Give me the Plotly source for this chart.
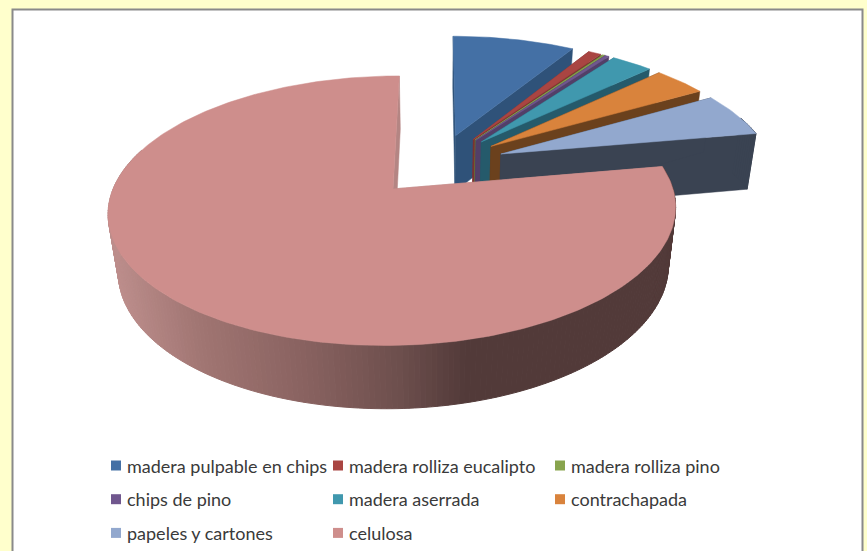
import math
import plotly.graph_objects as go

categories = ["madera pulpable en chips", "madera rolliza eucalipto", "madera rolliza pino",
              "chips de pino", "madera aserrada", "contrachapada", "papeles y cartones", "celulosa"]
shares = [8.6, 0.9, 0.17, 0.28, 2.9, 3.75, 5.6, 77.8]
top_colors = ["#4470A5", "#A94542", "#88A44D", "#70578E", "#4098AE", "#D9833C", "#92A8CE", "#CE8E8C"]
face_colors = ["#2F5279", "#7C3230", "#627637", "#523F68", "#255A6B", "#6B411D", "#3A4352", "#B48583"]

# perspective projection parameters of the tilted pie
X0, Y0, RX, RY, K, M, H, EXPLODE = 438, 164.5, 271.5, 123.5, 0.157, 0.03, 58.7, 0.25


def proj(u, v, z=0.0):
    w = 1 - K * v + M * z
    return X0 + RX * u / w, Y0 + (RY * v + H * z) / w


def poly(pts, color, width=0, line=None):
    xs = [p[0] for p in pts] + [pts[0][0]]
    ys = [p[1] for p in pts] + [pts[0][1]]
    return go.Scatter(x=xs, y=ys, mode="lines", fill="toself", fillcolor=color,
                      line=dict(color=line or color, width=width), hoverinfo="skip", showlegend=False)


def side_color(px):
    stops = [(108, (190, 143, 141)), (200, (160, 117, 114)), (300, (138, 99, 97)),
             (400, (109, 79, 77)), (467, (82, 58, 57)), (676, (82, 58, 57))]
    for (a, ca), (b, cb) in zip(stops, stops[1:]):
        if px <= b:
            t = max(0, (px - a) / (b - a))
            return "rgb(%d,%d,%d)" % tuple(ca[i] + (cb[i] - ca[i]) * t for i in range(3))
    return "rgb(82,58,57)"


fig = go.Figure()
total = sum(shares)
start = 0.0
for name, share, top, face in zip(categories, shares, top_colors, face_colors):
    end = start + share / total * 360
    mid = math.radians((start + end) / 2)
    cu, cv = EXPLODE * math.sin(mid), -EXPLODE * math.cos(mid)

    def pt(deg, z=0.0):
        a = math.radians(deg)
        return proj(cu + math.sin(a), cv - math.cos(a), z)

    n = max(3, int(end - start))
    degs = [start + (end - start) * i / n for i in range(n + 1)]
    apex, apex_b = proj(cu, cv), proj(cu, cv, 1)
    # radial faces
    fig.add_trace(poly([apex, pt(end), pt(end, 1), apex_b], face, 0.5))
    fig.add_trace(poly([apex, pt(start), pt(start, 1), apex_b], face, 0.5))
    # outer wall, front half only
    for d0, d1 in zip(degs, degs[1:]):
        if 72 < (d0 + d1) / 2 < 288:
            col = side_color((pt(d0)[0] + pt(d1)[0]) / 2) if share > 50 else face
            fig.add_trace(poly([pt(d0), pt(d1), pt(d1, 1), pt(d0, 1)], col, 1))
    # top
    fig.add_trace(poly([apex] + [pt(d) for d in degs], top, 0.5))
    start = end

# legend (three columns, three rows)
LEG_X, LEG_Y, COL_W, ROW_H = 111, 465.5, 222, 33.7
for i, (name, top) in enumerate(zip(categories, top_colors)):
    col, row = i % 3, i // 3
    x, y = LEG_X + col * COL_W, LEG_Y + row * ROW_H
    fig.add_shape(type="rect", x0=x, x1=x + 10, y0=y - 5, y1=y + 5, fillcolor=top, line_width=0)
    fig.add_annotation(x=x + 14, y=y, text=name, showarrow=False, xanchor="left", yanchor="middle",
                       font=dict(family="Lato", size=18, color="#3A3A3A"))

fig.update_layout(
    width=867, height=551, autosize=False, showlegend=False,
    margin=dict(l=0, r=0, t=0, b=0),
    paper_bgcolor="#FFFFCC", plot_bgcolor="#FFFFCC",
    xaxis=dict(range=[0, 867], visible=False, fixedrange=True),
    yaxis=dict(range=[551, 0], visible=False, fixedrange=True),
    shapes=list(fig.layout.shapes) + [
        dict(type="rect", x0=12.5, x1=862.5, y0=9.5, y1=560, layer="below",
             fillcolor="#FFFFFF", line=dict(color="#8A8A8A", width=2))],
)
fig.write_html("out.html", config={"displayModeBar": False},
               post_script="document.body.style.margin='0';document.documentElement.style.overflow='hidden';")
